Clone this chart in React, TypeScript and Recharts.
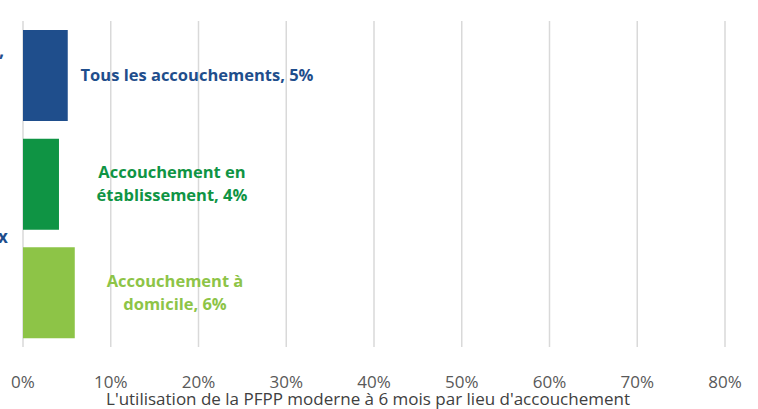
import { BarChart, Bar, XAxis, YAxis, CartesianGrid, LabelList, Cell } from "recharts"

const categories = ["Tous les accouchements", "Accouchement en établissement", "Accouchement à domicile"]
const values = [5.1, 4.1, 5.9]
const barLabels = ["Tous les accouchements, 5%", "Accouchement en\nétablissement, 4%", "Accouchement à\ndomicile, 6%"]
const colors = ["#1F4E8C", "#0F9444", "#8DC447"]
const xTicks = [0, 10, 20, 30, 40, 50, 60, 70, 80]
const axisTitle = "L'utilisation de la PFPP moderne à 6 mois par lieu d'accouchement"

const data = categories.map((cat, i) => ({ cat, value: values[i], label: barLabels[i] }))

const FONT = "'Open Sans', sans-serif"

// Excel-style callouts sit a bit right of the bars, centred on the bar
const labelDx = [174, 149, 152]

function BarLabel(props: any) {
  const { x, y, height, index } = props
  const lines = String(barLabels[index]).split("\n")
  const cx = x + labelDx[index]
  const cy = y + height / 2
  const lh = 23
  const start = cy - ((lines.length - 1) * lh) / 2
  return (
    <text
      x={cx}
      y={start}
      textAnchor="middle"
      fill={colors[index]}
      fontFamily={FONT}
      fontWeight={700}
      fontSize={16.5}
    >
      {lines.map((l, i) => (
        <tspan key={i} x={cx} y={start + i * lh} dy="0.35em">
          {l}
        </tspan>
      ))}
    </text>
  )
}

export default function App() {
  return (
    <div style={{ position: "absolute", left: 0, top: 0, width: 758, height: 409, background: "#fff", overflow: "hidden" }}>
      <BarChart
        width={758}
        height={409}
        data={data}
        layout="vertical"
        margin={{ top: 21, right: 33, bottom: 0, left: 23 }}
      >
        <CartesianGrid horizontal={false} stroke="#D9D9D9" strokeWidth={1.5} />
        <XAxis
          type="number"
          domain={[0, 80]}
          ticks={xTicks}
          tickFormatter={(v) => `${v}%`}
          axisLine={false}
          tickLine={false}
          tickSize={0}
          tickMargin={29}
          height={62}
          interval={0}
          tick={{ fill: "#595959", fontSize: 17, fontFamily: FONT }}
          label={() => (
            <text
              x={368}
              y={405}
              textAnchor="middle"
              fill="#404040"
              fontSize={17}
              fontFamily={FONT}
            >
              {axisTitle}
            </text>
          )}
        />
        <YAxis type="category" dataKey="cat" hide width={0} />
        <Bar dataKey="value" barSize={91} isAnimationActive={false}>
          {data.map((d, i) => (
            <Cell key={d.cat} fill={colors[i]} />
          ))}
          <LabelList dataKey="label" content={BarLabel} />
        </Bar>
      </BarChart>
      {/* cut-off category text at the left edge of the crop */}
      <span style={{ position: "absolute", left: -1, top: 38, color: "#1F4E8C", font: `700 18px ${FONT}` }}>,</span>
      <span style={{ position: "absolute", left: -2, top: 225, color: "#1F4E8C", font: `700 17px ${FONT}` }}>x</span>
    </div>
  )
}
